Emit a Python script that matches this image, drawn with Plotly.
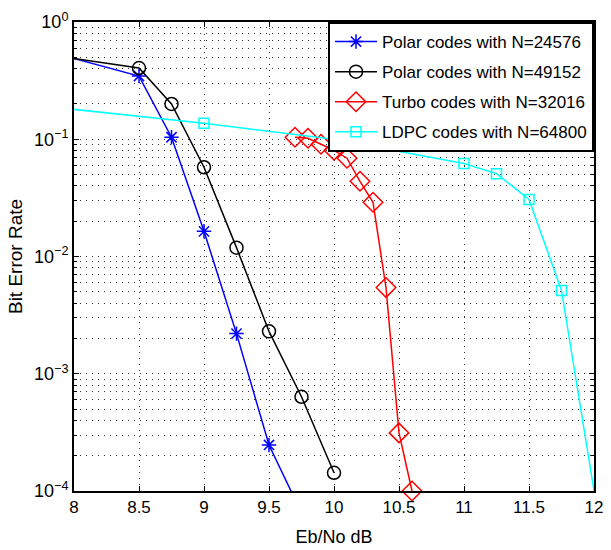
import plotly.graph_objects as go

# ---- data ----
polar1_x = [7.5, 8.5, 8.75, 9.0, 9.25, 9.5, 9.75]
polar1_ber = [0.69, 0.346, 0.104, 0.0164, 0.0022, 2.47e-4, 6.5e-5]

polar2_x = [7.5, 8.5, 8.75, 9.0, 9.25, 9.5, 9.75, 10.0]
polar2_ber = [0.59, 0.405, 0.2, 0.0577, 0.0119, 0.0023, 6.36e-4, 1.43e-4]

turbo_x = [9.7, 9.8, 9.9, 10.0, 10.1, 10.2, 10.3, 10.4, 10.5, 10.6]
turbo_ber = [0.104, 0.102, 0.0906, 0.0805, 0.0689, 0.0438, 0.029, 0.00543, 3.13e-4, 1.0e-4]

ldpc_x = [7.0, 9.0, 10.0, 11.0, 11.25, 11.5, 11.75, 12.25]
ldpc_ber = [0.236, 0.137, 0.1, 0.062, 0.0509, 0.0307, 0.00513, 2e-6]

names = ["Polar codes with N=24576", "Polar codes with N=49152",
         "Turbo codes with N=32016", "LDPC codes with N=64800"]

x_ticks = [8, 8.5, 9, 9.5, 10, 10.5, 11, 11.5, 12]
y_ticks = [1e0, 1e-1, 1e-2, 1e-3, 1e-4]
y_ticktext = ["10<sup>0</sup>", "10<sup>\u22121</sup>", "10<sup>\u22122</sup>",
              "10<sup>\u22123</sup>", "10<sup>\u22124</sup>"]

FONT = "Liberation Sans, Arial, sans-serif"

fig = go.Figure()

def add(x, y, name, color, symbol, size, clip=True):
    fig.add_trace(go.Scatter(
        x=x, y=y, name=name, mode="lines+markers",
        line=dict(color=color, width=1.5),
        marker=dict(symbol=symbol, size=size, color=color,
                    line=dict(color=color, width=1.5)),
        cliponaxis=clip, legendgroup=name,
    ))

add(polar1_x, polar1_ber, names[0], "#0000FF", "asterisk-open", 12)
add(polar2_x, polar2_ber, names[1], "#000000", "circle-open", 13)
add(turbo_x, turbo_ber, names[2], "#FF0000", "diamond-open", 15, clip=False)
add(ldpc_x, ldpc_ber, names[3], "#00FFFF", "square-open", 10)

minor_vals = [m * 10.0 ** e for e in range(-4, 0) for m in range(2, 10)]

grid_dash = "1px,5px"

fig.update_layout(
    width=611, height=550,
    margin=dict(l=74, r=17, t=22, b=59),
    paper_bgcolor="white", plot_bgcolor="white",
    font=dict(family=FONT, size=17, color="black"),
    showlegend=True,
    legend=dict(
        x=1, y=1, xanchor="right", yanchor="top",
        bgcolor="white", bordercolor="black", borderwidth=2,
        font=dict(family=FONT, size=17, color="black"),
        itemwidth=42, tracegroupgap=5,
    ),
)

fig.update_xaxes(
    range=[8, 12], tickvals=x_ticks, ticktext=[f"{v:g}" for v in x_ticks],
    showline=True, linecolor="black", linewidth=2, mirror="ticks",
    ticks="inside", ticklen=5, tickcolor="black", tickwidth=1,
    showgrid=True, gridcolor="#333333", gridwidth=1, griddash=grid_dash,
    zeroline=False, automargin=False,
    title=dict(text="Eb/No dB", font=dict(size=18), standoff=14),
    tickfont=dict(size=17),
)

fig.update_yaxes(
    type="log", range=[-4, 0], tickvals=y_ticks, ticktext=y_ticktext,
    showline=True, linecolor="black", linewidth=2, mirror="ticks",
    ticks="inside", ticklen=5, tickcolor="black", tickwidth=1,
    showgrid=True, gridcolor="#333333", gridwidth=1, griddash=grid_dash,
    zeroline=False, automargin=False,
    minor=dict(tickvals=minor_vals, ticks="inside", ticklen=3, tickcolor="black",
               showgrid=True, gridcolor="#333333", gridwidth=1, griddash=grid_dash),
    title=dict(text="Bit Error Rate", font=dict(size=19), standoff=6),
    tickfont=dict(size=18),
)

fig.write_html("out.html", config={"displayModeBar": False},
               post_script="document.body.style.margin='0';")
